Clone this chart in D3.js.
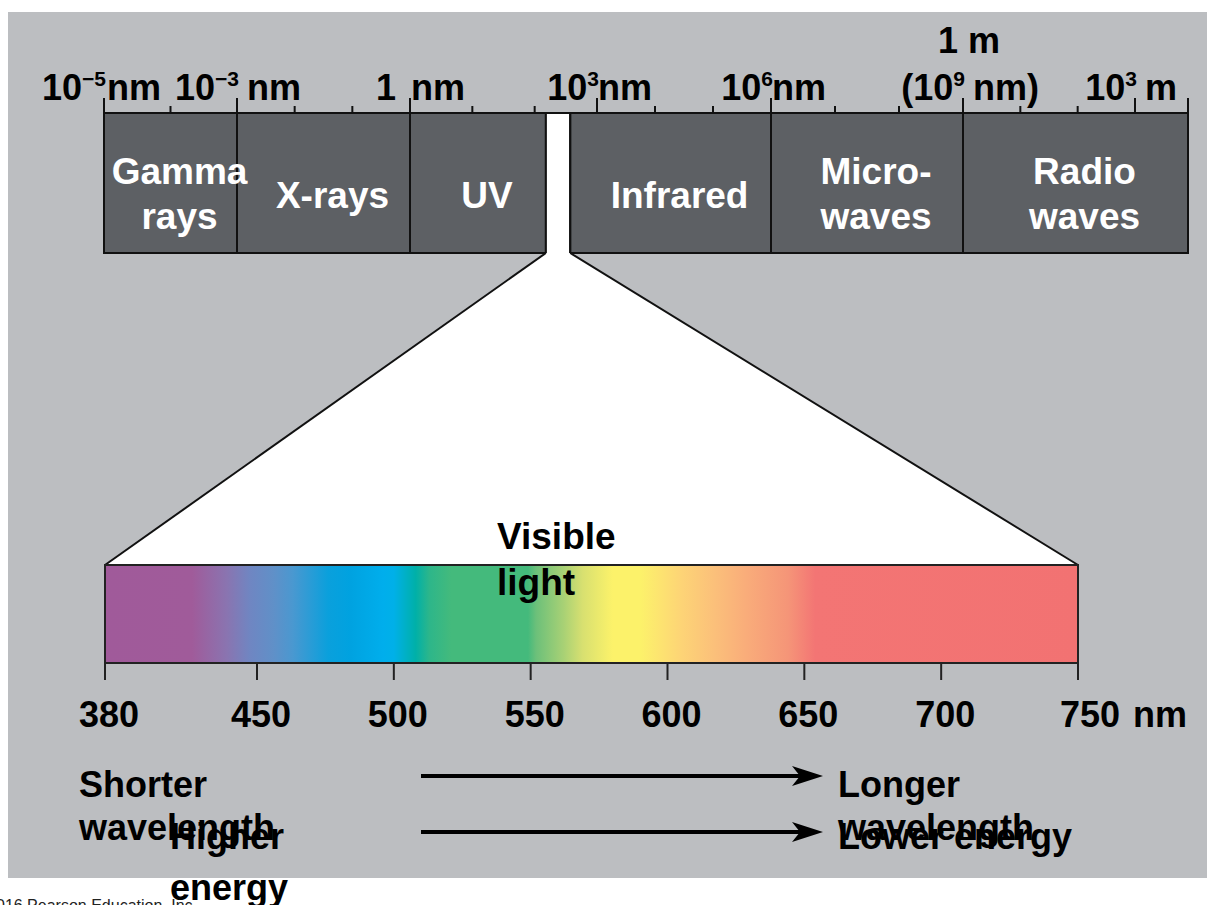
<!DOCTYPE html>
<html>
<head>
<meta charset="utf-8">
<script src="https://cdn.jsdelivr.net/npm/d3@7"></script>
<style>
  body { margin: 0; background: #fff; overflow: hidden; }
  #box1 { width: 1207px; height: 905px; }
  svg { display: block; font-family: "Liberation Sans", Arial, sans-serif; }
</style>
</head>
<body>
<div id="box1"><svg id="box1_svg"></svg></div>
<script>
"use strict";

// top band: edges in log10(nm), names per band (one or two lines)
const band_edges = [-5, -3, 0, 2.18, 2.57, 6, 9, 13];
const band_names = [["Gamma", "rays"], ["X-rays"], ["UV"], [], ["Infrared"], ["Micro-", "waves"], ["Radio", "waves"]];

// top axis ticks (log10 nm)
const major_exp = [-5, -3, 0, 3, 6, 9, 12, 13];
const minor_exp = [-4, -2, -1, 1, 2, 4, 5, 7, 8, 10, 11];
const major_num = ["10", "10", "1", "10", "10", "(10", "10", ""];
const major_sup = ["\u22125", "\u22123", "", "3", "6", "9", "3", ""];
const major_unit = ["nm", "nm", "nm", "nm", "nm", "nm)", "m", ""];

// visible light
const vis_ticks = [380, 450, 500, 550, 600, 650, 700, 750];
const spec_nm = [380, 420, 436, 447, 456, 463, 476, 484, 496, 500, 508, 513, 521, 549, 552, 562, 569, 580, 590, 597, 605, 617, 629, 644, 654, 750];
const spec_color = ["#a05a9a", "#a05b9a", "#8a74b0", "#6f86c2", "#6090c8", "#4a98d0", "#0aa0dc", "#00a2e0", "#00aeec", "#00b0e8",
  "#00b0a8", "#2db68a", "#44ba7c", "#44ba7c", "#6cc07a", "#a8d175", "#d8e070", "#fcf26a", "#fcf26a", "#fde470",
  "#fdd476", "#fbc07a", "#f9ac7a", "#f59578", "#f37574", "#f27272"];

// captions
const left_text = [["Shorter", "wavelength"], ["Higher", "energy"]];
const right_text = [["Longer", "wavelength"], ["Lower energy"]];

const p = {
  bg: "#bcbec1",
  band_fill: "#5d6064",
  band_top: 113,
  band_bot: 253,
  spec_top: 565,
  spec_bot: 663,
};

const svg = d3.select("#box1_svg").attr("width", 1207).attr("height", 905);

// scales
const x_top = d3.scaleLinear()
  .domain([-5, -3, 0, 3, 6, 9, 12, 13])
  .range([104, 237, 410, 597, 771, 963, 1135, 1188]);

const x_vis = d3.scaleLinear()
  .domain([380, 450, 750])
  .range([105, 257, 1078]);

// background
svg.append("rect")
  .attr("x", 8).attr("y", 12)
  .attr("width", 1199).attr("height", 866)
  .attr("fill", p.bg);

// bands
const bands = d3.range(band_edges.length - 1).map(i => ({
  x0: x_top(band_edges[i]),
  x1: x_top(band_edges[i + 1]),
  names: band_names[i],
}));

svg.append("g").selectAll("rect")
  .data(bands)
  .join("rect")
  .attr("x", d => d.x0)
  .attr("y", p.band_top)
  .attr("width", d => d.x1 - d.x0)
  .attr("height", p.band_bot - p.band_top)
  .attr("fill", d => d.names.length ? p.band_fill : "#fff")
  .attr("stroke", d => d.names.length ? "#111" : "none")
  .attr("stroke-width", 2);

// sides of the visible strip
const vis_band = bands.find(d => !d.names.length);
svg.append("g").selectAll("line")
  .data([vis_band.x0, vis_band.x1])
  .join("line")
  .attr("x1", d => d).attr("x2", d => d)
  .attr("y1", p.band_top).attr("y2", p.band_bot)
  .attr("stroke", "#111").attr("stroke-width", 2);

// band labels
bands.filter(d => d.names.length).forEach(d => {
  const cx = (d.x0 + d.x1) / 2 + 9;
  const ys = d.names.length == 2 ? [184, 229] : [208];
  d.names.forEach((t, j) => {
    svg.append("text")
      .text(t)
      .attr("x", cx)
      .attr("y", ys[j])
      .attr("text-anchor", "middle")
      .attr("fill", "#fff")
      .attr("font-size", 37)
      .attr("font-weight", "bold");
  });
});

// zoom trapezoid
svg.append("path")
  .attr("d", `M${vis_band.x0},${p.band_bot} L${vis_band.x1},${p.band_bot} L${x_vis(750)},${p.spec_top} L${x_vis(380)},${p.spec_top} Z`)
  .attr("fill", "#fff");
svg.append("g").selectAll("line")
  .data([[vis_band.x0, x_vis(380)], [vis_band.x1, x_vis(750)]])
  .join("line")
  .attr("x1", d => d[0]).attr("y1", p.band_bot)
  .attr("x2", d => d[1]).attr("y2", p.spec_top)
  .attr("stroke", "#111").attr("stroke-width", 2);

// top axis line and ticks
svg.append("line")
  .attr("x1", x_top(-5)).attr("x2", x_top(13))
  .attr("y1", p.band_top).attr("y2", p.band_top)
  .attr("stroke", "#111").attr("stroke-width", 2);

svg.append("g").selectAll("line")
  .data(major_exp)
  .join("line")
  .attr("x1", d => x_top(d)).attr("x2", d => x_top(d))
  .attr("y1", 98).attr("y2", p.band_top)
  .attr("stroke", "#111").attr("stroke-width", 2);

svg.append("g").selectAll("line")
  .data(minor_exp)
  .join("line")
  .attr("x1", d => x_top(d)).attr("x2", d => x_top(d))
  .attr("y1", 106).attr("y2", p.band_top)
  .attr("stroke", "#111").attr("stroke-width", 2);

// top axis labels: number ends at the tick, unit starts after it
major_exp.forEach((e, i) => {
  if (!major_num[i]) return;
  const tx = x_top(e);
  const has_sup = major_sup[i] != "";
  const left = svg.append("text")
    .attr("x", has_sup ? tx + 2 : tx - 14)
    .attr("y", 100)
    .attr("text-anchor", "end")
    .attr("font-size", 36)
    .attr("font-weight", "bold")
    .attr("fill", "#000");
  left.append("tspan").text(major_num[i]);
  if (has_sup) {
    left.append("tspan")
      .text(major_sup[i])
      .attr("font-size", 21)
      .attr("dy", -14);
  }
  const gap = e == -5 ? 3 : (e == -3 || e == 9 || e == 12) ? 10 : 1;
  svg.append("text")
    .text(major_unit[i])
    .attr("x", tx + gap)
    .attr("y", 100)
    .attr("font-size", 36)
    .attr("font-weight", "bold")
    .attr("fill", "#000");
});

svg.append("text")
  .text("1 m")
  .attr("x", x_top(9) + 6)
  .attr("y", 53)
  .attr("text-anchor", "middle")
  .attr("font-size", 36)
  .attr("font-weight", "bold");

// spectrum
const grad = svg.append("defs").append("linearGradient")
  .attr("id", "spec_grad")
  .attr("gradientUnits", "userSpaceOnUse")
  .attr("x1", x_vis(380)).attr("x2", x_vis(750))
  .attr("y1", 0).attr("y2", 0);

grad.selectAll("stop")
  .data(spec_nm)
  .join("stop")
  .attr("offset", d => (x_vis(d) - x_vis(380)) / (x_vis(750) - x_vis(380)))
  .attr("stop-color", (d, i) => spec_color[i]);

svg.append("rect")
  .attr("x", x_vis(380))
  .attr("y", p.spec_top)
  .attr("width", x_vis(750) - x_vis(380))
  .attr("height", p.spec_bot - p.spec_top)
  .attr("fill", "url(#spec_grad)")
  .attr("stroke", "#222")
  .attr("stroke-width", 2);

// visible light label
[["Visible", 549], ["light", 595]].forEach(d => {
  svg.append("text")
    .text(d[0])
    .attr("x", 497)
    .attr("y", d[1])
    .attr("font-size", 37)
    .attr("font-weight", "bold");
});

// bottom ticks + labels
svg.append("g").selectAll("line")
  .data(vis_ticks)
  .join("line")
  .attr("x1", d => x_vis(d)).attr("x2", d => x_vis(d))
  .attr("y1", p.spec_bot).attr("y2", 680)
  .attr("stroke", "#222").attr("stroke-width", 2);

svg.append("g").selectAll("text")
  .data(vis_ticks)
  .join("text")
  .text(d => d)
  .attr("x", d => x_vis(d) + (d == 750 ? 12 : 4))
  .attr("y", 727)
  .attr("text-anchor", "middle")
  .attr("font-size", 36)
  .attr("font-weight", "bold");

svg.append("text")
  .text("nm")
  .attr("x", x_vis(750) + 55)
  .attr("y", 727)
  .attr("font-size", 36)
  .attr("font-weight", "bold");

// arrows
[776, 832].forEach(y => {
  svg.append("line")
    .attr("x1", 421).attr("x2", 805)
    .attr("y1", y).attr("y2", y)
    .attr("stroke", "#000").attr("stroke-width", 4);
  svg.append("path")
    .attr("d", `M823,${y} L792,${y - 10} L800,${y} L792,${y + 10} Z`)
    .attr("fill", "#000");
});

// captions
const cap = (x, y, t) => svg.append("text")
  .text(t).attr("x", x).attr("y", y)
  .attr("font-size", 36).attr("font-weight", "bold").attr("fill", "#000");

cap(79, 797, left_text[0][0]);
cap(79, 840, left_text[0][1]);
cap(170, 849, left_text[1][0]);
cap(170, 900, left_text[1][1]);
cap(838, 797, right_text[0][0]);
cap(838, 840, right_text[0][1]);
cap(838, 849, right_text[1][0]);

// footer
svg.append("text")
  .text("\u00a9 2016 Pearson Education, Inc.")
  .attr("x", 197)
  .attr("y", 911)
  .attr("text-anchor", "end")
  .attr("font-size", 16)
  .attr("fill", "#222");
</script>
</body>
</html>
